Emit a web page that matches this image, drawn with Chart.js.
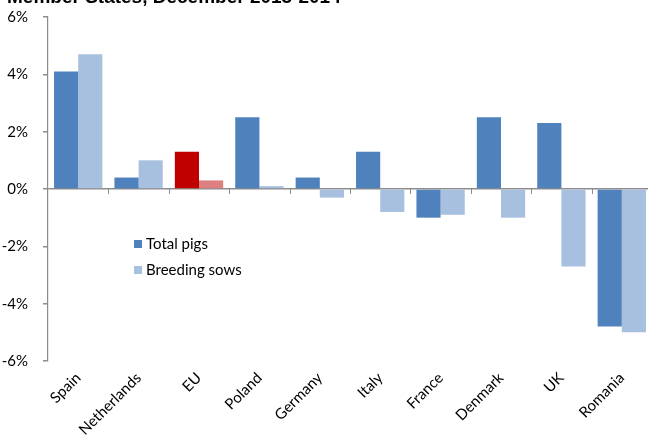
<!DOCTYPE html>
<html>
<head>
<meta charset="utf-8">
<script src="https://cdn.jsdelivr.net/npm/chart.js@4"></script>
<style>
  html, body { margin: 0; padding: 0; background: #fff; overflow: hidden; }
  #wrap { width: 660px; height: 436px; position: relative; }
</style>
</head>
<body>
<div id="wrap"><canvas id="pigChart"></canvas></div>
<script>
// Data
const countries = ['Spain', 'Netherlands', 'EU', 'Poland', 'Germany', 'Italy', 'France', 'Denmark', 'UK', 'Romania'];
const totalPigs = [4.1, 0.4, 1.3, 2.5, 0.4, 1.3, -1.0, 2.5, 2.3, -4.8];
const breedingSows = [4.7, 1.0, 0.3, 0.1, -0.3, -0.8, -0.9, -1.0, -2.7, -5.0];
const yTicks = [-6, -4, -2, 0, 2, 4, 6];
const titleText = 'Member States, December 2013-2014';

const fontFamily = 'Lato, "Open Sans", sans-serif';
const darkBlue = '#4F81BD';
const lightBlue = '#A7C0DF';
const euRed = '#C00000';
const euLightRed = '#DE8080';

// EU bars are highlighted in red
const totalColors = countries.map(c => c === 'EU' ? euRed : darkBlue);
const sowColors = countries.map(c => c === 'EU' ? euLightRed : lightBlue);

// Title (clipped at top), tick marks on zero line, in-plot legend
const extras = {
    id: 'extras',
    afterDraw(chart) {
        const ctx = chart.ctx;
        const x = chart.scales.x;
        const y = chart.scales.y;
        const zeroY = y.getPixelForValue(0);
        ctx.save();

        // title
        ctx.fillStyle = '#000';
        ctx.font = 'bold 19px "Liberation Sans", Arial, sans-serif';
        ctx.textBaseline = 'alphabetic';
        ctx.textAlign = 'left';
        ctx.fillText(titleText, 7, 3, 400);

        // category tick marks below the zero line
        ctx.strokeStyle = '#8c8c8c';
        ctx.lineWidth = 1;
        for (let i = 1; i < countries.length; i++) {
            const px = Math.round((x.getPixelForValue(i - 1) + x.getPixelForValue(i)) / 2) + 0.5;
            ctx.beginPath();
            ctx.moveTo(px, zeroY);
            ctx.lineTo(px, zeroY + 5);
            ctx.stroke();
        }

        // legend
        ctx.font = '15px ' + fontFamily;
        ctx.textBaseline = 'middle';
        const items = [[darkBlue, chart.data.datasets[0].label], [lightBlue, chart.data.datasets[1].label]];
        items.forEach((it, i) => {
            const cy = 244 + i * 26;
            ctx.fillStyle = it[0];
            ctx.fillRect(134, cy - 4, 8, 8);
            ctx.fillStyle = '#000';
            ctx.fillText(it[1], 146, cy);
        });
        ctx.restore();
    }
};

const ctx = document.getElementById('pigChart').getContext('2d');
const pigChart = new Chart(ctx, {
    type: 'bar',
    data: {
        labels: countries,
        datasets: [{
            label: 'Total pigs',
            data: totalPigs,
            backgroundColor: totalColors,
            categoryPercentage: 0.8,
            barPercentage: 1.0,
        }, {
            label: 'Breeding sows',
            data: breedingSows,
            backgroundColor: sowColors,
            categoryPercentage: 0.8,
            barPercentage: 1.0,
        }]
    },
    options: {
        responsive: true,
        maintainAspectRatio: false,
        animation: false,
        layout: { padding: { top: 17, right: 8, left: 0, bottom: 0 } },
        plugins: {
            legend: { display: false },
            tooltip: { enabled: false },
        },
        scales: {
            x: {
                grid: { display: false },
                border: { display: false },
                ticks: {
                    color: '#000',
                    font: { family: fontFamily, size: 15 },
                    minRotation: 45,
                    maxRotation: 45,
                    padding: 0,
                },
                afterFit(scale) { scale.height = 75; },
            },
            y: {
                min: -6,
                max: 6,
                afterBuildTicks(scale) { scale.ticks = yTicks.map(v => ({ value: v })); },
                grid: {
                    color: c => c.tick && c.tick.value === 0 ? '#8c8c8c' : 'transparent',
                    tickColor: '#8c8c8c',
                    tickLength: 5,
                    lineWidth: 1.5,
                },
                border: { display: true, color: '#8c8c8c', width: 1.2 },
                ticks: {
                    color: '#000',
                    font: { family: fontFamily, size: 15 },
                    padding: 15,
                    callback: v => v + '%',
                },
                afterFit(scale) {
                    scale.width = 48;
                    scale.paddingTop = 0;
                    scale.paddingBottom = 0;
                },
            }
        }
    },
    plugins: [extras]
});
</script>
</body>
</html>
